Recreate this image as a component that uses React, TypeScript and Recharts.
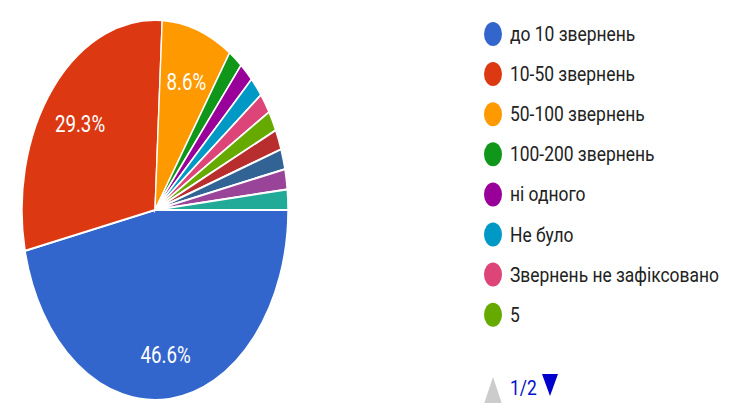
import { PieChart, Pie, Cell, Legend, Sector } from "recharts";

const categories = [
  "до 10 звернень",
  "10-50 звернень",
  "50-100 звернень",
  "100-200 звернень",
  "ні одного",
  "Не було",
  "Звернень не зафіксовано",
  "5",
  "Інше 1",
  "Інше 2",
  "Інше 3",
  "Інше 4",
];
const counts = [27, 17, 5, 1, 1, 1, 1, 1, 1, 1, 1, 1];
const colors = [
  "#3366cc", "#dc3912", "#ff9900", "#109618", "#990099", "#0099c6",
  "#dd4477", "#66aa00", "#b82e2e", "#316395", "#994499", "#22aa99",
];
const pageLabel = "1/2";
const legendPageSize = 8;

const data = categories.map((name, i) => ({ name, value: counts[i], color: colors[i] }));

const SQUASH = 0.7;
const LABEL_SQUASH = 0.78;
const LEGEND_SQUASH = 0.83;
const RADIAN = Math.PI / 180;

function EllipseSector(props: any) {
  const { cx, cy } = props;
  return (
    <g transform={`translate(${cx} ${cy}) scale(${SQUASH} 1) translate(${-cx} ${-cy})`}>
      <Sector {...props} />
    </g>
  );
}

function renderLabel(props: any) {
  const { cx, cy, midAngle, outerRadius, percent } = props;
  if (percent < 0.05) return null;
  const r = outerRadius * 0.74;
  const x = cx + r * Math.cos(-midAngle * RADIAN) * SQUASH;
  const y = cy + r * Math.sin(-midAngle * RADIAN) + 5;
  return (
    <text
      transform={`translate(${x} ${y}) scale(${LABEL_SQUASH} 1)`}
      fill="#ffffff"
      fontSize={24}
      fontFamily="Roboto, Arial, sans-serif"
      textAnchor="middle"
      dominantBaseline="central"
    >
      {(percent * 100).toFixed(1)}%
    </text>
  );
}

function renderLegend() {
  return (
    <svg width={255} height={403}>
      {data.slice(0, legendPageSize).map((d, i) => {
        const y = 34 + i * 40.1;
        return (
          <g key={d.name}>
            <ellipse cx={13} cy={y} rx={9} ry={12} fill={d.color} />
            <text
              transform={`translate(30 ${y}) scale(${LEGEND_SQUASH} 1)`}
              fontSize={21}
              fontFamily="Roboto, Arial, sans-serif"
              fill="#222222"
              dominantBaseline="central"
            >
              {d.name}
            </text>
          </g>
        );
      })}
      <polygon points="4,404 13,377 22,404" fill="#cccccc" />
      <text
        transform={`translate(30 388) scale(${LEGEND_SQUASH} 1)`}
        fontSize={21}
        fontFamily="Roboto, Arial, sans-serif"
        fill="#0011cc"
        dominantBaseline="central"
      >
        {pageLabel}
      </text>
      <polygon points="62,374 78,374 70,396" fill="#0000cc" />
    </svg>
  );
}

export default function App() {
  return (
    <div style={{ position: "absolute", left: 0, top: 0, background: "#ffffff" }}>
      <PieChart width={735} height={403} margin={{ top: 0, right: 0, bottom: 0, left: 0 }}>
        <Pie
          data={data}
          dataKey="value"
          nameKey="name"
          cx={155}
          cy={210}
          outerRadius={190}
          startAngle={0}
          endAngle={-360}
          stroke="#ffffff"
          strokeWidth={2}
          label={renderLabel}
          labelLine={false}
          shape={EllipseSector}
          inactiveShape={EllipseSector}
          activeShape={EllipseSector}
          isAnimationActive={false}
        >
          {data.map((d) => (
            <Cell key={d.name} fill={d.color} />
          ))}
        </Pie>
        <Legend
          layout="vertical"
          content={renderLegend}
          wrapperStyle={{ position: "absolute", left: 480, top: 0, width: 255, height: 403 }}
        />
      </PieChart>
    </div>
  );
}
